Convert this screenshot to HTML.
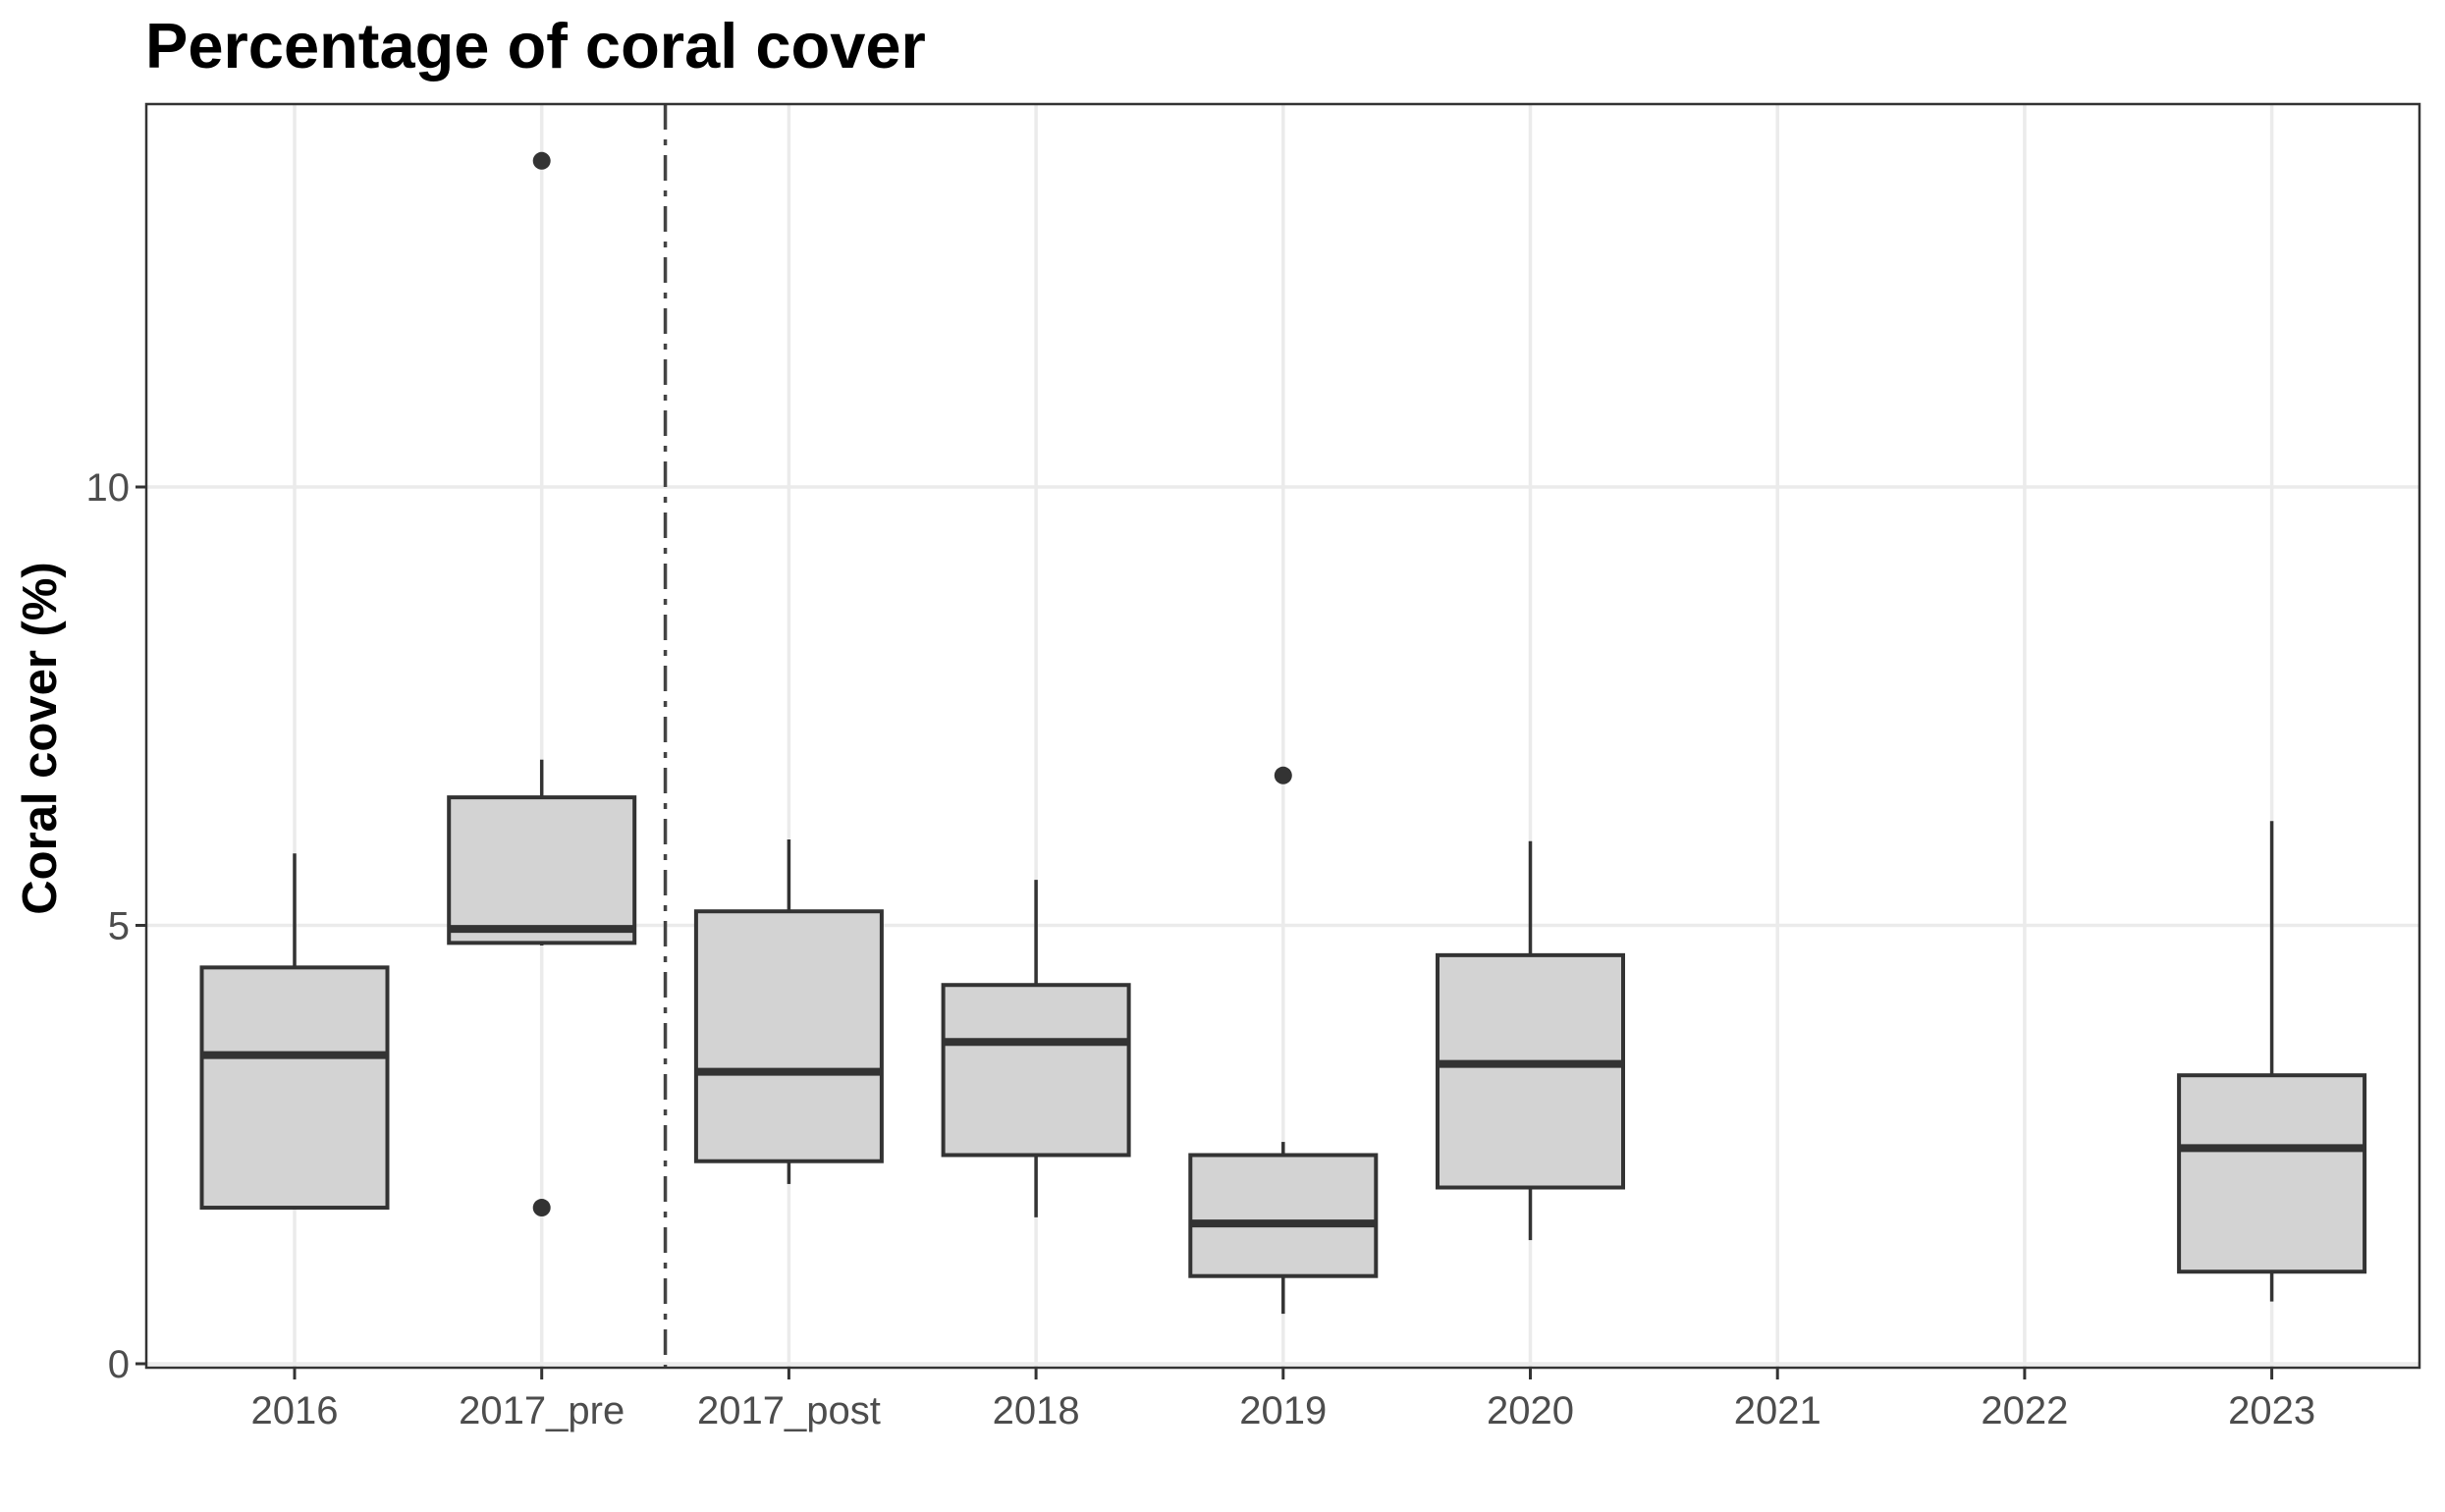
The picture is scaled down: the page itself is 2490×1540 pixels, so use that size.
<!DOCTYPE html>
<html><head><meta charset="utf-8"><style>
html,body{margin:0;padding:0;background:#fff;}
svg{display:block;font-family:"Liberation Sans",Arial,sans-serif;}
</style></head><body>
<svg id="chart" width="2490" height="1540" viewBox="0 0 2490 1540" xmlns="http://www.w3.org/2000/svg">
<rect x="0" y="0" width="2490" height="1540" fill="#fff"/>
<text x="148" y="69" font-size="65" font-weight="bold" fill="#000">Percentage of coral cover</text>
<text transform="translate(57,752) rotate(-90)" text-anchor="middle" font-size="49" font-weight="bold" fill="#000">Coral cover (%)</text>
<g id="grid"></g>
<g id="marks"></g>
<rect x="149" y="106" width="2315" height="1287" fill="none" stroke="#333" stroke-width="2.5"/>
<g id="axes"></g>
</svg>
<script>
const categories = ["2016","2017_pre","2017_post","2018","2019","2020","2021","2022","2023"];
const lowerWhisker = [1.78, 4.77, 2.05, 1.67, 0.57, 1.41, null, null, 0.71];
const q1Values     = [1.78, 4.80, 2.31, 2.38, 1.00, 2.01, null, null, 1.05];
const medianValues = [3.52, 4.96, 3.33, 3.67, 1.60, 3.42, null, null, 2.46];
const q3Values     = [4.52, 6.46, 5.16, 4.32, 2.38, 4.66, null, null, 3.29];
const upperWhisker = [5.82, 6.89, 5.98, 5.52, 2.53, 5.96, null, null, 6.19];
const outlierCats  = ["2017_pre","2017_pre","2019"];
const outlierVals  = [13.72, 1.78, 6.71];
const yTicks = [0, 5, 10];
const dividerPosition = 1.5;

const NS = "http://www.w3.org/2000/svg";
const L = 149, R = 2464, T = 106, B = 1393;
const step = 251.7, x0 = 300;
function xScale(i){ return x0 + i*step; }
function yScale(v){ return 1389 - v*89.3; }
function mk(tag, attrs, parent){ const e = document.createElementNS(NS, tag); for (const k in attrs) e.setAttribute(k, attrs[k]); parent.appendChild(e); return e; }
const grid = document.getElementById("grid"), marks = document.getElementById("marks"), axes = document.getElementById("axes");

yTicks.forEach(v => {
  const l = mk("line", {x1:L, x2:R, y1:yScale(v), y2:yScale(v), stroke:"#ebebeb", "stroke-width":3.5}, grid);
  
  
  const t = mk("line", {x1:L-11, x2:L, y1:yScale(v), y2:yScale(v), stroke:"#333", "stroke-width":3}, axes);
  
  
  const tx = mk("text", {x:L-17, y:yScale(v)+14, "text-anchor":"end", "font-size":40, fill:"#4d4d4d"}, axes);
  tx.textContent = v;
  
  
});
categories.forEach((c, i) => {
  const x = xScale(i);
  const l = mk("line", {x1:x, x2:x, y1:T, y2:B, stroke:"#ebebeb", "stroke-width":3.5}, grid);
  
  
  const t = mk("line", {x1:x, x2:x, y1:B, y2:B+12, stroke:"#333", "stroke-width":3}, axes);
  
  
  const tx = mk("text", {x:x, y:1450, "text-anchor":"middle", "font-size":40, fill:"#4d4d4d"}, axes);
  tx.textContent = c;
  
  
});
const dx = xScale(dividerPosition);
const dv = mk("line", {x1:dx, x2:dx, y1:T, y2:B, stroke:"#444", "stroke-width":3.5, "stroke-dasharray":"26 10 6 10"}, marks);



const bw = 189;
categories.forEach((c, i) => {
  if (q1Values[i] === null) return;
  const x = xScale(i);
  const g = mk("g", {}, marks);
  
  
  mk("line", {x1:x, x2:x, y1:yScale(q3Values[i]), y2:yScale(upperWhisker[i]), stroke:"#333", "stroke-width":3.5}, g);
  mk("line", {x1:x, x2:x, y1:yScale(q1Values[i]), y2:yScale(lowerWhisker[i]), stroke:"#333", "stroke-width":3.5}, g);
  mk("rect", {x:x-bw/2, y:yScale(q3Values[i]), width:bw, height:yScale(q1Values[i])-yScale(q3Values[i]), fill:"#d3d3d3", stroke:"#333", "stroke-width":4}, g);
  const m = mk("line", {x1:x-bw/2, x2:x+bw/2, y1:yScale(medianValues[i]), y2:yScale(medianValues[i]), stroke:"#333", "stroke-width":8}, g);
  
  
});
outlierCats.forEach((c, j) => {
  const i = categories.indexOf(c);
  const p = mk("circle", {cx:xScale(i), cy:yScale(outlierVals[j]), r:9, fill:"#333"}, marks);
  
  
});
</script>
</body></html>
